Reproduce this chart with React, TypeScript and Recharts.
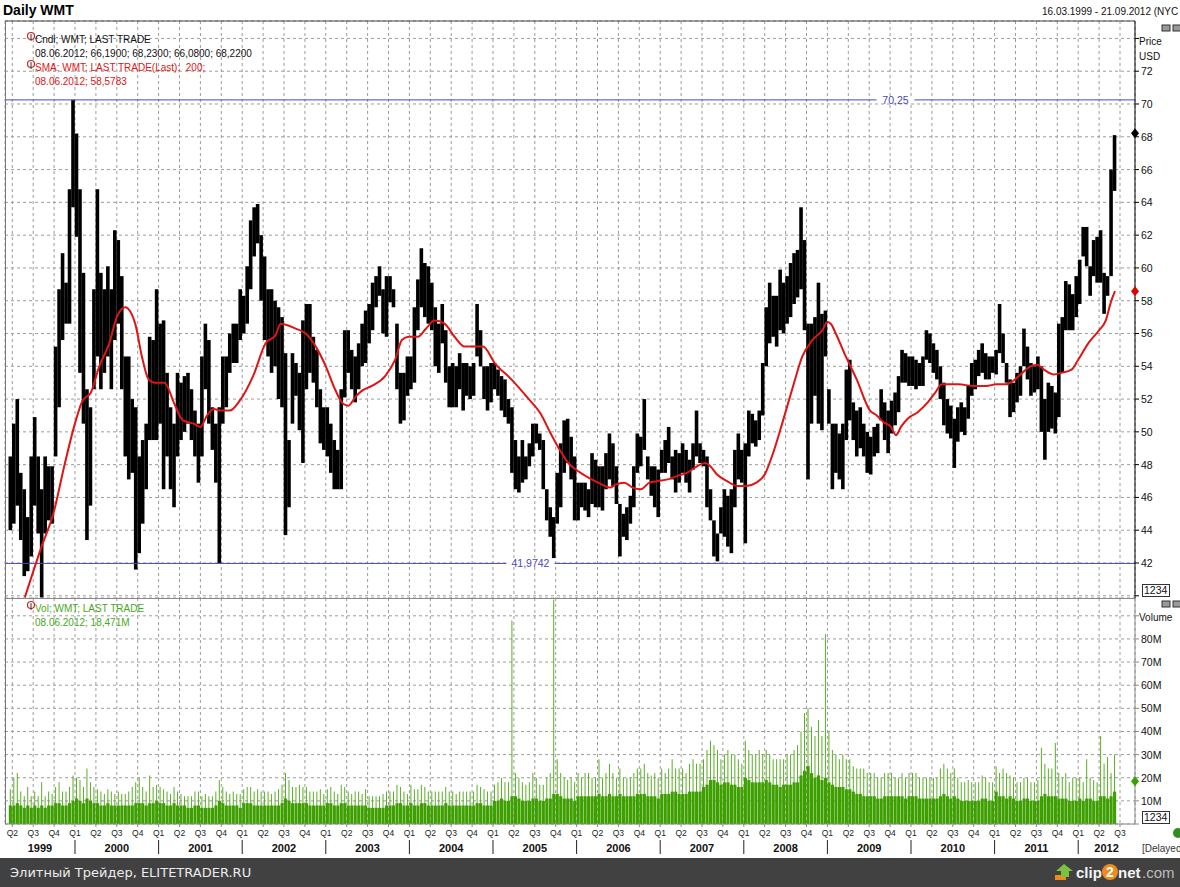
/* Daily WMT — candles (half-month high/low), SMA 200, volume panel */

import React from 'react';
import {
  ComposedChart, Bar, Line, XAxis, YAxis, CartesianGrid, ReferenceLine, ReferenceDot,
} from 'recharts';

const FONT = '"Liberation Sans", Arial, Helvetica, sans-serif';
const NAVY = '#4848b8';
const GRID = '#9c9c9c';
const SMA_RED = '#e01414';
const VOL_GREEN = '#3d9f00';
const VOL_SPIKE = '#5aae24';

const YEARS = [1999, 2000, 2001, 2002, 2003, 2004, 2005, 2006, 2007, 2008, 2009, 2010, 2011, 2012];
const QUARTERS = ['Q1', 'Q2', 'Q3', 'Q4'];
const FIRST_HALF = 5; // first sample = 2nd half of March 1999

// half-month highs / lows (USD)
const HIGHS = [
  /*1999*/ 48.5, 50.5, 52.0, 47.5, 46.5, 44.8, 48.5, 50.9, 48.5, 46.5, 48.5, 47.9, 47.9, 55.2, 58.7, 60.9, 59.1, 64.8, 70.25,
  /*2000*/ 68.2, 64.8, 59.7, 52.6, 51.5, 58.7, 64.8, 59.7, 58.7, 60.1, 58.7, 62.3, 61.7, 59.5, 54.6, 54.6, 52.0, 51.5, 48.5, 49.5, 50.5, 55.8, 55.6, 58.7,
  /*2001*/ 56.6, 56.8, 53.6, 51.5, 50.5, 53.6, 53.0, 53.4, 53.6, 52.6, 51.3, 50.5, 54.6, 56.6, 55.6, 51.5, 50.5, 51.5, 54.6, 54.6, 56.0, 56.6, 56.6, 58.7,
  /*2002*/ 58.3, 60.1, 62.9, 63.7, 63.9, 62.0, 60.7, 58.7, 58.7, 58.0, 57.6, 57.0, 54.8, 49.5, 54.8, 54.2, 53.6, 56.8, 57.8, 57.8, 55.8, 55.0, 52.6, 51.5,
  /*2003*/ 51.5, 50.5, 49.5, 48.9, 52.6, 56.2, 56.2, 55.0, 54.6, 55.4, 56.6, 57.4, 57.8, 59.1, 59.5, 60.1, 58.7, 59.5, 59.5, 58.7, 56.6, 53.6, 53.6, 54.6,
  /*2004*/ 54.6, 57.6, 59.3, 61.2, 60.3, 60.1, 59.1, 57.6, 56.6, 57.8, 56.2, 54.0, 54.2, 54.0, 54.8, 54.2, 54.2, 54.0, 54.2, 57.8, 56.2, 54.0, 54.0, 54.2,
  /*2005*/ 54.2, 53.8, 53.4, 53.2, 52.0, 51.5, 49.5, 48.5, 49.5, 48.5, 49.3, 50.5, 50.5, 49.9, 49.5, 46.5, 45.4, 44.8, 47.5, 49.3, 50.7, 50.8, 49.7, 48.5,
  /*2006*/ 46.9, 46.9, 46.9, 46.5, 48.7, 48.3, 47.9, 47.9, 48.7, 49.9, 49.3, 47.9, 45.6, 45.0, 45.4, 46.1, 47.9, 49.9, 49.7, 52.0, 48.5, 47.9, 47.9, 47.7,
  /*2007*/ 48.9, 49.5, 50.3, 48.5, 48.9, 48.7, 49.3, 48.9, 48.3, 49.3, 51.3, 49.3, 48.9, 48.5, 46.5, 44.6, 43.8, 45.4, 46.5, 46.1, 46.5, 48.9, 49.9, 48.9,
  /*2008*/ 49.3, 51.3, 51.1, 50.7, 51.3, 54.2, 57.6, 59.1, 58.3, 58.3, 59.9, 59.1, 59.5, 60.3, 60.9, 61.1, 63.7, 61.7, 56.6, 56.6, 57.0, 59.1, 57.2, 57.4,
  /*2009*/ 52.6, 50.5, 50.5, 49.9, 50.5, 53.8, 54.4, 51.8, 51.3, 51.5, 50.5, 50.0, 49.7, 50.3, 50.5, 52.6, 51.8, 51.3, 51.9, 52.4, 53.4, 55.0, 54.8, 54.6,
  /*2010*/ 54.6, 54.4, 54.2, 54.6, 56.2, 56.0, 55.4, 55.0, 54.0, 53.0, 52.0, 51.6, 50.8, 51.5, 51.8, 51.5, 52.8, 54.2, 54.4, 55.0, 55.4, 54.8, 54.6, 54.6,
  /*2011*/ 55.0, 57.8, 56.0, 54.2, 53.2, 53.0, 53.6, 54.0, 56.3, 55.2, 54.2, 54.0, 54.6, 54.0, 52.0, 53.0, 52.8, 52.4, 56.6, 57.0, 59.2, 59.0, 58.4, 59.5,
  /*2012*/ 60.5, 62.5, 62.5, 60.1, 61.7, 61.9, 62.3, 59.7, 59.5, 66.0, 68.1,
];
const LOWS = [
  /*1999*/ 44.0, 44.4, 45.5, 43.4, 41.2, 41.5, 42.4, 45.5, 43.8, 39.9, 43.8, 44.6, 44.4, 48.5, 51.5, 55.6, 56.6, 56.6, 63.7,
  /*2000*/ 61.9, 53.6, 50.5, 43.4, 45.5, 52.6, 54.6, 52.6, 53.6, 54.6, 52.6, 55.6, 56.6, 52.6, 48.5, 47.1, 47.5, 41.6, 42.6, 44.4, 46.5, 49.5, 49.5, 49.5,
  /*2001*/ 50.5, 46.5, 48.5, 46.5, 45.4, 48.5, 49.5, 50.0, 50.5, 49.5, 48.5, 46.9, 48.5, 52.6, 50.5, 48.9, 46.9, 42.0, 50.5, 51.5, 53.6, 54.2, 54.2, 55.6,
  /*2002*/ 56.0, 56.6, 58.7, 60.7, 61.5, 58.0, 55.6, 54.6, 53.6, 54.0, 52.0, 51.5, 43.7, 45.4, 50.5, 52.2, 50.1, 48.1, 52.6, 53.6, 53.0, 51.5, 49.3, 48.9,
  /*2003*/ 48.5, 47.5, 46.5, 46.5, 46.5, 52.1, 53.6, 52.6, 51.8, 52.6, 54.0, 54.2, 55.4, 56.2, 57.6, 58.3, 56.0, 55.8, 57.9, 57.6, 52.6, 50.5, 50.7, 52.2,
  /*2004*/ 52.6, 53.0, 56.2, 57.6, 57.0, 56.6, 56.2, 54.0, 53.6, 55.4, 53.0, 51.5, 51.5, 51.5, 52.6, 51.3, 52.2, 52.0, 52.2, 54.6, 54.0, 52.0, 51.3, 51.8,
  /*2005*/ 52.6, 52.2, 51.3, 50.9, 50.5, 47.5, 46.5, 46.3, 46.9, 47.1, 47.9, 48.5, 49.3, 48.9, 46.5, 44.6, 43.6, 42.3, 44.4, 45.4, 47.5, 48.1, 47.1, 44.6,
  /*2006*/ 44.6, 45.4, 45.2, 44.8, 45.6, 45.4, 45.4, 45.2, 46.5, 47.1, 46.7, 45.6, 42.4, 43.6, 43.4, 44.4, 45.4, 47.5, 47.9, 48.9, 47.1, 46.1, 45.4, 44.8,
  /*2007*/ 47.5, 47.5, 48.1, 47.1, 46.3, 46.9, 47.5, 46.9, 46.3, 47.7, 48.5, 48.1, 47.9, 45.4, 44.6, 42.4, 42.1, 43.8, 43.6, 43.0, 42.6, 45.4, 47.1, 46.9,
  /*2008*/ 43.2, 48.5, 49.3, 49.1, 49.5, 51.0, 54.0, 55.4, 55.8, 55.2, 56.2, 56.0, 56.6, 57.0, 57.8, 58.2, 58.7, 56.2, 47.1, 50.5, 52.2, 50.5, 50.1, 54.6,
  /*2009*/ 50.5, 46.5, 47.5, 47.1, 46.5, 49.5, 50.7, 49.5, 48.5, 49.0, 48.5, 47.5, 47.4, 48.5, 48.7, 50.7, 49.5, 48.7, 49.9, 50.4, 51.2, 53.0, 53.0, 52.8,
  /*2010*/ 52.8, 52.6, 52.8, 52.8, 54.4, 54.2, 53.6, 53.2, 52.0, 50.4, 49.9, 49.6, 47.8, 49.4, 50.0, 49.8, 50.8, 52.2, 52.6, 53.4, 53.6, 53.2, 53.2, 53.6,
  /*2011*/ 53.5, 54.8, 54.2, 53.0, 50.9, 51.2, 51.8, 52.2, 54.0, 53.2, 52.2, 52.4, 52.6, 50.0, 48.3, 50.0, 50.2, 49.9, 50.9, 53.6, 56.2, 56.2, 56.2, 57.0,
  /*2012*/ 57.8, 60.7, 60.1, 58.3, 59.5, 59.1, 59.1, 57.2, 58.3, 59.5, 64.7,
];

// half-month volume in millions: typical level and largest single day
const VOL_BASE = [
  /*1999*/ 8, 8, 9, 8, 7, 8, 7, 8, 7, 8, 7, 8, 8, 9, 9, 8, 8, 9, 10,
  /*2000*/ 11, 10, 9, 11, 10, 9, 9, 8, 8, 9, 8, 8, 8, 8, 8, 8, 8, 9, 9, 9, 8, 9, 9, 10,
  /*2001*/ 9, 9, 8, 8, 9, 8, 8, 8, 7, 7, 8, 8, 7, 7, 7, 7, 8, 10, 9, 8, 8, 8, 8, 7,
  /*2002*/ 9, 9, 9, 8, 8, 8, 8, 8, 8, 8, 8, 9, 11, 10, 9, 9, 9, 9, 9, 8, 8, 8, 8, 8,
  /*2003*/ 9, 9, 8, 8, 9, 9, 8, 8, 8, 8, 8, 8, 7, 7, 7, 7, 7, 8, 8, 8, 9, 9, 8, 8,
  /*2004*/ 9, 8, 8, 9, 9, 8, 8, 8, 8, 8, 9, 8, 8, 8, 8, 8, 8, 8, 8, 9, 9, 8, 8, 8,
  /*2005*/ 10, 10, 11, 10, 10, 12, 12, 11, 10, 10, 10, 11, 11, 10, 10, 11, 11, 13, 13, 12, 11, 11, 11, 10,
  /*2006*/ 12, 12, 12, 12, 12, 12, 13, 12, 12, 13, 12, 12, 13, 12, 12, 12, 12, 13, 13, 13, 12, 12, 12, 11,
  /*2007*/ 13, 13, 13, 14, 14, 13, 13, 13, 14, 14, 14, 14, 16, 17, 19, 19, 18, 17, 18, 18, 17, 17, 16, 16,
  /*2008*/ 20, 19, 18, 18, 18, 18, 19, 18, 17, 17, 16, 17, 17, 17, 18, 18, 21, 23, 25, 22, 20, 21, 19, 20,
  /*2009*/ 18, 17, 16, 16, 16, 15, 15, 14, 13, 13, 12, 12, 12, 12, 11, 11, 12, 12, 12, 12, 12, 12, 11, 12,
  /*2010*/ 12, 12, 11, 11, 11, 11, 11, 11, 12, 13, 12, 11, 12, 11, 10, 10, 10, 10, 10, 10, 11, 11, 10, 10,
  /*2011*/ 14, 12, 12, 11, 12, 11, 10, 10, 11, 11, 10, 10, 10, 12, 13, 12, 12, 12, 11, 11, 11, 10, 10, 10,
  /*2012*/ 11, 10, 11, 11, 10, 10, 12, 12, 11, 12, 14,
];
const VOL_PEAK = [
  /*1999*/ 15, 20, 22, 14, 12, 16, 12, 14, 12, 18, 12, 14, 13, 16, 18, 14, 14, 16, 21,
  /*2000*/ 20, 19, 16, 24, 18, 16, 15, 14, 13, 15, 14, 13, 14, 13, 13, 14, 16, 18, 20, 16, 14, 21, 16, 17,
  /*2001*/ 16, 15, 14, 13, 16, 14, 13, 12, 12, 12, 14, 14, 12, 13, 12, 12, 14, 19, 16, 14, 13, 14, 13, 13,
  /*2002*/ 15, 16, 16, 14, 15, 14, 14, 14, 13, 14, 15, 17, 22, 19, 16, 16, 17, 16, 16, 14, 14, 14, 15, 13,
  /*2003*/ 15, 16, 14, 13, 17, 16, 14, 13, 14, 14, 13, 15, 12, 12, 12, 12, 13, 14, 14, 14, 17, 16, 14, 13,
  /*2004*/ 17, 15, 15, 17, 16, 14, 14, 14, 14, 14, 16, 14, 14, 13, 14, 14, 14, 14, 14, 17, 16, 15, 14, 14,
  /*2005*/ 17, 18, 20, 18, 18, 88, 22, 20, 18, 17, 18, 22, 20, 17, 17, 20, 22, 97, 28, 22, 20, 19, 20, 18,
  /*2006*/ 22, 20, 22, 22, 20, 20, 28, 20, 22, 26, 22, 20, 24, 20, 20, 20, 22, 24, 24, 26, 22, 21, 22, 20,
  /*2007*/ 24, 22, 24, 28, 24, 24, 24, 22, 26, 28, 26, 26, 28, 32, 36, 34, 32, 28, 30, 32, 30, 30, 28, 26,
  /*2008*/ 36, 32, 30, 30, 32, 30, 32, 30, 28, 28, 28, 28, 30, 30, 32, 34, 40, 48, 50, 42, 38, 45, 38, 82,
  /*2009*/ 40, 32, 30, 28, 30, 28, 28, 25, 24, 24, 24, 22, 22, 22, 20, 20, 22, 22, 22, 20, 20, 22, 20, 22,
  /*2010*/ 22, 22, 20, 20, 20, 20, 20, 20, 24, 26, 24, 22, 24, 20, 18, 18, 19, 18, 18, 18, 21, 20, 18, 18,
  /*2011*/ 25, 22, 24, 22, 21, 20, 18, 18, 20, 20, 18, 18, 19, 33, 26, 24, 24, 35, 22, 20, 22, 18, 20, 20,
  /*2012*/ 20, 18, 28, 20, 19, 18, 38, 26, 29, 22, 30,
];

// SMA(200) read at these dates (decimal years)
const SMA_T = [
  1999.40, 1999.60, 1999.74, 1999.88, 2000.01, 2000.09, 2000.19, 2000.29, 2000.41, 2000.50, 2000.60, 2000.72, 2000.80, 2000.88, 2000.95,
  2001.07, 2001.19, 2001.29, 2001.42, 2001.50, 2001.58, 2001.66, 2001.74, 2001.85, 2001.97,
  2002.13, 2002.28, 2002.40, 2002.46, 2002.64, 2002.76, 2002.88,
  2003.00, 2003.11, 2003.21, 2003.27, 2003.35, 2003.43, 2003.55, 2003.71, 2003.83, 2003.91, 2003.99,
  2004.10, 2004.20, 2004.30, 2004.42, 2004.54, 2004.66, 2004.78, 2004.88,
  2005.02, 2005.22, 2005.41, 2005.57, 2005.69, 2005.81, 2005.90,
  2006.02, 2006.18, 2006.30, 2006.40, 2006.47, 2006.57, 2006.67, 2006.77, 2006.87, 2006.97,
  2007.09, 2007.20, 2007.32, 2007.44, 2007.54, 2007.60, 2007.68, 2007.80, 2007.92,
  2008.03, 2008.15, 2008.25, 2008.35, 2008.47, 2008.59, 2008.70, 2008.82, 2008.94,
  2009.00, 2009.04, 2009.10, 2009.22, 2009.35, 2009.51, 2009.59, 2009.67, 2009.76, 2009.82, 2009.88, 2009.96,
  2010.08, 2010.20, 2010.29, 2010.37, 2010.45, 2010.57, 2010.74, 2010.90,
  2011.02, 2011.14, 2011.22, 2011.31, 2011.43, 2011.51, 2011.59, 2011.71, 2011.80, 2011.92,
  2012.00, 2012.12, 2012.25, 2012.33, 2012.39, 2012.44,
];
const SMA_V = [
  39.9, 43.0, 45.0, 48.1, 50.7, 51.9, 52.4, 54.0, 55.4, 57.0, 57.6, 56.6, 54.6, 53.2, 53.0,
  53.0, 51.7, 50.7, 50.5, 50.3, 51.0, 51.4, 51.3, 51.3, 51.9,
  53.4, 55.4, 55.9, 56.6, 56.3, 56.0, 55.2,
  54.0, 52.6, 51.7, 51.6, 52.1, 52.5, 52.8, 53.4, 54.4, 55.6, 55.8,
  55.8, 56.3, 56.8, 56.6, 55.8, 55.2, 55.2, 55.2,
  54.2, 53.2, 52.1, 51.1, 49.9, 48.8, 48.1,
  47.6, 47.1, 46.8, 46.6, 46.8, 46.9, 46.6, 46.5, 46.9, 47.0,
  47.1, 47.3, 47.5, 47.9, 48.1, 47.9, 47.4, 47.0, 46.7,
  46.7, 46.9, 47.4, 48.7, 50.7, 52.8, 54.6, 55.6, 56.2,
  56.7, 56.6, 56.0, 54.6, 53.2, 51.3, 51.0, 50.6, 50.3, 49.8, 50.3, 50.8,
  51.2, 51.8, 52.4, 52.9, 52.9, 52.9, 52.8, 52.8,
  52.9, 52.9, 53.1, 53.5, 54.0, 54.1, 53.8, 53.5, 53.6, 53.8,
  54.4, 55.4, 56.2, 56.8, 57.9, 58.58,
];

const LAST_CLOSE = 68.22;
const LAST_SMA = 58.5783;
const LAST_VOL = 18.471;
const HI_LEVEL = 70.25;
const LO_LEVEL = 41.9742;

const X_MIN = 1999.1627;
const X_MAX = 2012.6794;
const P_MIN = 39.865;
const P_MAX = 75.063;
const V_MAX = 97.7;
const PRICE_TICKS = [40, 42, 44, 46, 48, 50, 52, 54, 56, 58, 60, 62, 64, 66, 68, 70, 72, 74];
const VOL_TICKS = [0, 10, 20, 30, 40, 50, 60, 70, 80, 90];

const candles = HIGHS.map((hi, i) => ({
  t: YEARS[0] + (FIRST_HALF + i + 0.5) / 24,
  hl: [LOWS[i], hi],
  vb: VOL_BASE[i],
  vp: VOL_PEAK[i],
}));
const smaData = SMA_T.map((t, i) => ({ t, v: SMA_V[i] }));

const quarterTicks = YEARS.flatMap((y) => QUARTERS.map((_, q) => y + q / 4))
  .filter((t) => t > X_MIN && t < X_MAX);
const yearTicks = YEARS.map((y) => (Math.max(y, X_MIN) + Math.min(y + 1, X_MAX)) / 2);

/* ── ticks, labels, shapes ──────────────────────────────────── */
function PriceTick(props: any) {
  const { x, y, payload } = props;
  if (payload.value < 42 || payload.value > 72) return <g />;
  return (
    <text x={x} y={y} dy={4} textAnchor="start" fontSize={10.5} fontFamily={FONT} fill="#111">
      {payload.value}
    </text>
  );
}

function VolTick(props: any) {
  const { x, y, payload } = props;
  if (payload.value < 10 || payload.value > 80) return <g />;
  return (
    <text x={x} y={y} dy={4} textAnchor="start" fontSize={10.5} fontFamily={FONT} fill="#111">
      {payload.value}M
    </text>
  );
}

function QuarterTick(props: any) {
  const { x, y, payload } = props;
  const v = payload.value;
  const q = Math.round((v - Math.floor(v + 0.001)) * 4);
  return (
    <g>
      <text x={x} y={y + 8} textAnchor="middle" fontSize={8.5} fontFamily={FONT} fill="#222">
        {QUARTERS[q]}
      </text>
      {q === 0 && <line x1={x} x2={x} y1={y + 12} y2={y + 26} stroke="#222" strokeWidth={1} />}
    </g>
  );
}

function YearTick(props: any) {
  const { x, y, payload } = props;
  return (
    <text x={x} y={y + 12} textAnchor="middle" fontSize={11} fontWeight="bold" fontFamily={FONT} fill="#111">
      {Math.floor(payload.value)}
    </text>
  );
}

function LevelLabel(props: any) {
  const { viewBox, text, at, w } = props;
  if (!viewBox) return null;
  const cx = viewBox.x + viewBox.width * at;
  const cy = viewBox.y;
  return (
    <g>
      <rect x={cx - w / 2} y={cy - 2} width={w} height={4} fill="#fff" />
      <text x={cx} y={cy + 4} textAnchor="middle" fontSize={10.5} fontFamily={FONT} fill={NAVY}>{text}</text>
    </g>
  );
}

// high-low bar drawn a fixed 3.6px wide around the centre the library gives
function CandleShape(props: any) {
  const { x, y, width, height } = props;
  if (x == null || y == null) return <g />;
  const cx = x + width / 2;
  const top = Math.min(y, y + height);
  return <rect x={cx - 1.8} y={top} width={3.6} height={Math.max(Math.abs(height), 1)} fill="#000" />;
}

function Diamond(props: any) {
  const { cx, cy, color } = props;
  return <path d={`M${cx},${cy - 5}L${cx + 4},${cy}L${cx},${cy + 5}L${cx - 4},${cy}Z`} fill={color} />;
}

function LegendIcon({ x, y, color }: any) {
  return (
    <g>
      <circle cx={x} cy={y} r={3.5} fill="#fff" stroke={color} strokeWidth={1.2} />
      <line x1={x} x2={x} y1={y - 2} y2={y + 5} stroke="#333" strokeWidth={1} />
    </g>
  );
}

export default function App() {
  return (
    <div style={{ position: 'absolute', left: 0, top: 0, width: 1180, height: 887, background: '#fff', overflow: 'hidden', fontFamily: FONT }}>
      {/* price panel */}
      <div style={{ position: 'absolute', left: 0, top: 0 }}>
        <ComposedChart width={1180} height={600} data={candles} margin={{ top: 21, right: 0, bottom: 2, left: 5 }}>
          <CartesianGrid stroke={GRID} strokeDasharray="3 3" />
          <XAxis dataKey="t" type="number" domain={[X_MIN, X_MAX]} allowDataOverflow ticks={quarterTicks} interval={0} hide />
          <XAxis xAxisId="sma" dataKey="t" type="number" domain={[X_MIN, X_MAX]} allowDataOverflow hide />
          <YAxis
            orientation="right" width={45} domain={[P_MIN, P_MAX]} allowDataOverflow
            ticks={PRICE_TICKS} interval={0} tick={<PriceTick />} tickSize={4} tickMargin={2} stroke="#000"
          />
          <Bar dataKey="hl" fill="#000" barSize={3} shape={<CandleShape />} isAnimationActive={false} />
          <ReferenceLine y={HI_LEVEL} stroke={NAVY} label={<LevelLabel text="70,25" at={0.788} w={38} />} />
          <ReferenceLine y={LO_LEVEL} stroke={NAVY} label={<LevelLabel text="41,9742" at={0.465} w={48} />} />
          <Line
            xAxisId="sma" data={smaData} dataKey="v" type="monotone" stroke={SMA_RED} strokeWidth={2}
            dot={false} activeDot={false} isAnimationActive={false}
          />
          <ReferenceDot x={X_MAX} y={LAST_CLOSE} ifOverflow="visible" shape={(p: any) => <Diamond {...p} color="#000" />} />
          <ReferenceDot x={X_MAX} y={LAST_SMA} ifOverflow="visible" shape={(p: any) => <Diamond {...p} color="#e00000" />} />
        </ComposedChart>
      </div>

      {/* volume panel */}
      <div style={{ position: 'absolute', left: 0, top: 598 }}>
        <ComposedChart width={1180} height={260} data={candles} margin={{ top: 0, right: 0, bottom: 0, left: 5 }}>
          <CartesianGrid xAxisId="q" stroke={GRID} strokeDasharray="3 3" />
          <XAxis
            xAxisId="q" dataKey="t" type="number" domain={[X_MIN, X_MAX]} allowDataOverflow
            ticks={quarterTicks} interval={0} tick={<QuarterTick />} tickSize={3} tickMargin={1} height={16} stroke="#8a8a8a"
          />
          <XAxis
            xAxisId="y" dataKey="t" type="number" domain={[X_MIN, X_MAX]} allowDataOverflow
            ticks={yearTicks} interval={0} tick={<YearTick />} tickLine={false} axisLine={false} tickSize={0} tickMargin={0} height={18}
          />
          <YAxis
            orientation="right" width={45} domain={[0, V_MAX]} allowDataOverflow
            ticks={VOL_TICKS} interval={0} tick={<VolTick />} tickSize={4} tickMargin={2} stroke="#8a8a8a"
          />
          <Bar xAxisId="y" dataKey="vp" fill={VOL_SPIKE} barSize={1} isAnimationActive={false} />
          <Bar xAxisId="q" dataKey="vb" fill={VOL_GREEN} barSize={4} isAnimationActive={false} />
          <ReferenceDot xAxisId="q" x={X_MAX} y={LAST_VOL} ifOverflow="visible" shape={(p: any) => <Diamond {...p} color="#3d9f00" />} />
        </ComposedChart>
      </div>

      {/* frame, legends, footer */}
      <svg width={1180} height={887} style={{ position: 'absolute', left: 0, top: 0, pointerEvents: 'none' }} fontFamily={FONT}>
        <line x1={5} x2={1135} y1={21} y2={21} stroke="#444" />
        <line x1={5.5} x2={5.5} y1={21} y2={824} stroke="#777" />
        <line x1={5} x2={1135} y1={598.5} y2={598.5} stroke="#888" />

        <text x={3} y={15} fontSize={14} fontWeight="bold" fill="#000">Daily WMT</text>
        <text x={1042} y={15} fontSize={10} fill="#111">16.03.1999 - 21.09.2012 (NYC</text>

        <LegendIcon x={31} y={36} color="#d02020" />
        <text x={35} y={43} fontSize={10} fill="#111">Cndl; WMT; LAST TRADE</text>
        <text x={35} y={57} fontSize={10} fill="#111">08.06.2012; 66,1900; 68,2300; 66,0800; 68,2200</text>
        <LegendIcon x={31} y={64} color="#d02020" />
        <text x={35} y={71} fontSize={10} fill={SMA_RED} style={{ whiteSpace: 'pre' }}>SMA; WMT; LAST TRADE(Last);  200;</text>
        <text x={35} y={85} fontSize={10} fill={SMA_RED}>08.06.2012; 58,5783</text>

        <LegendIcon x={31} y={605} color="#d02020" />
        <text x={35} y={612} fontSize={10} fill="#4aa81a">Vol; WMT; LAST TRADE</text>
        <text x={35} y={626} fontSize={10} fill="#4aa81a">08.06.2012; 18,471M</text>

        <text x={1139} y={45} fontSize={10} fill="#111">Price</text>
        <text x={1139} y={60} fontSize={10} fill="#111">USD</text>
        <text x={1139} y={621} fontSize={10} fill="#111">Volume</text>

        <rect x={1162} y={25} width={8} height={6} fill="#999" stroke="#333" />
        <rect x={1173} y={25} width={8} height={6} fill="#999" stroke="#333" />
        <rect x={1162} y={601} width={8} height={6} fill="#999" stroke="#333" />
        <rect x={1173} y={601} width={8} height={6} fill="#999" stroke="#333" />

        <rect x={1142.5} y={584.5} width={27} height={12} fill="#fff" stroke="#333" />
        <text x={1144} y={594} fontSize={10.5} fill="#111">1234</text>
        <rect x={1142.5} y={811.5} width={27} height={12} fill="#fff" stroke="#333" />
        <text x={1144} y={821} fontSize={10.5} fill="#111">1234</text>

        <circle cx={1178} cy={833} r={5} fill="#2f8f1a" />
        <text x={1142} y={852} fontSize={10} fill="#333">[Delayed</text>

        <rect x={0} y={858} width={1180} height={29} fill="#414141" />
        <text x={10} y={877} fontSize={13} fill="#ececec" fontFamily='"DejaVu Sans", sans-serif'>Элитный Трейдер, ELITETRADER.RU</text>
        <rect x={1055} y={875} width={11} height={5} fill="#f08a1c" />
        <path d="M1064,864 L1073,871 L1069,871 L1069,877 L1061,877 L1061,871 L1056,871 Z" fill="#7cc242" />
        <text x={1076} y={878} fontSize={15} fontWeight="bold" fill="#f4f4f4">clip</text>
        <circle cx={1110} cy={872} r={8} fill="#f08a1c" />
        <text x={1110} y={877} fontSize={14} fontWeight="bold" fill="#fff" textAnchor="middle">2</text>
        <text x={1118} y={878} fontSize={15} fontWeight="bold" fill="#f4f4f4">net</text>
        <text x={1142} y={878} fontSize={15} fill="#bdbdbd">.com</text>
      </svg>
    </div>
  );
}
